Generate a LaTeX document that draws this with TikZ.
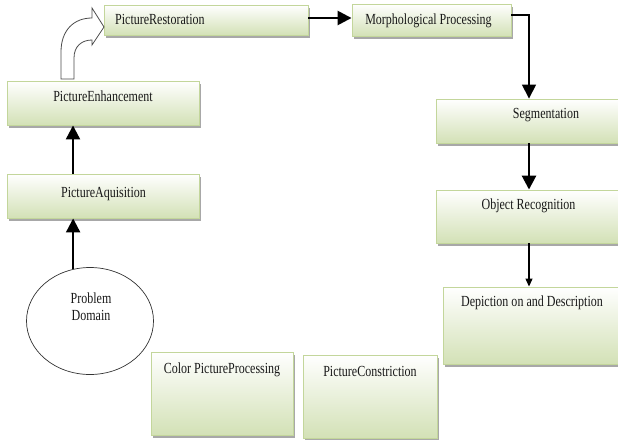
\documentclass[tikz,border=0pt]{standalone}
\usepackage{fontspec}
\newfontfamily\dfont[FakeStretch=0.78]{Liberation Serif}
\usetikzlibrary{arrows.meta,shadows,shapes.geometric}
\definecolor{boxborder}{HTML}{C3D69B}
\definecolor{boxbottom}{HTML}{D3E1B6}
\definecolor{shadowgray}{HTML}{A8A8A8}
\tikzset{
  pbox/.style={rectangle, draw=boxborder, line width=0.9pt, inner sep=0pt,
    top color=white, bottom color=boxbottom,
    drop shadow={shadow xshift=2pt, shadow yshift=-2.5pt, fill=shadowgray, opacity=1}},
  lbl/.style={anchor=base, inner sep=0pt, text=black!90, font=\dfont\fontsize{15.4}{17}\selectfont},
  arr/.style={draw=black, line width=#1pt, -{Triangle[length=14pt,width=14pt]}},
  arr/.default=2.2
}
\begin{document}
\begin{tikzpicture}[x=1pt,y=-1pt]
\useasboundingbox (0,0) rectangle (618,439);
% boxes
\node[pbox, minimum width=204pt, minimum height=30pt] (rest) at (206,20) {};
\node[pbox, minimum width=159pt, minimum height=32pt] (morph) at (431.5,20) {};
\node[pbox, minimum width=192pt, minimum height=44pt] (enh) at (103,103) {};
\node[pbox, minimum width=192pt, minimum height=44pt] (acq) at (103,196) {};
\node[pbox, minimum width=189pt, minimum height=44pt] (seg) at (530.5,121) {};
\node[pbox, minimum width=189pt, minimum height=53pt] (obj) at (530.5,216.5) {};
\node[pbox, minimum width=182pt, minimum height=77pt] (dep) at (534,325.5) {};
\node[pbox, minimum width=142pt, minimum height=83pt] (color) at (222,393.5) {};
\node[pbox, minimum width=134pt, minimum height=83pt] (constr) at (370,396.5) {};
\node[ellipse, draw=black!80, line width=0.7pt, fill=white, minimum width=127pt, minimum height=107pt, inner sep=0pt] (ell) at (90,321) {};
% texts
\node[lbl, anchor=base west] (restT) at (115,24) {PictureRestoration};
\node[lbl] (morphT) at (428.5,24) {Morphological Processing};
\node[lbl] (enhT) at (103,101) {PictureEnhancement};
\node[lbl] (acqT) at (103.5,197) {PictureAquisition};
\node[lbl] (segT) at (546,118) {Segmentation};
\node[lbl] (objT) at (528.5,209) {Object Recognition};
\node[lbl] (depT) at (532,306) {Depiction on and Description};
\node[lbl] (colorT) at (222,373) {Color PictureProcessing};
\node[lbl] (constrT) at (370,376) {PictureConstriction};
\node[lbl] (probT) at (91,303) {Problem};
\node[lbl] (domT) at (91,320) {Domain};
% curved block arrow
\draw[draw=black!70, line width=0.8pt, fill=white, line join=miter]
  (61,79) -- (61,52) .. controls (61,30) and (74,18) .. (92,18) -- (92,8) -- (104,27)
  -- (92,45) -- (92,40) .. controls (82,40) and (74,46) .. (74,58) -- (74,79) -- cycle;
% connectors
\draw[arr=2.6] ([yshift=2pt]rest.east) -- ([yshift=2pt]morph.west);
\draw[arr=1.6] ([yshift=5pt]morph.east) -| ([xshift=-1.5pt]seg.north);
\draw[arr=2.8] ([xshift=-1.5pt]seg.south) -- ([xshift=-1.5pt]obj.north);
\draw[draw=black, line width=1.2pt, -{Triangle[length=8pt,width=7pt]}] ([xshift=-1.5pt]obj.south) -- ([xshift=-1.5pt]obj.south |- dep.north);
\draw[arr=2.2] (ell.108) -- (ell.108 |- acq.south);
\draw[arr=2.2] ([xshift=-30pt]acq.north) -- ([xshift=-30pt]enh.south);
\end{tikzpicture}
\end{document}
